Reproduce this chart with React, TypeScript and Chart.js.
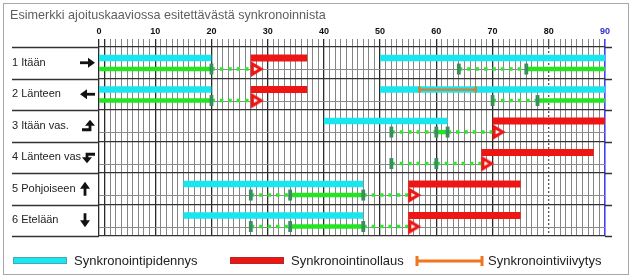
import React, { useEffect, useRef } from "react";
import { Chart, registerables } from "chart.js";

Chart.register(...registerables);

// ---------- data ----------
const chartTitle = "Esimerkki ajoituskaaviossa esitettävästä synkronoinnista";
const rowLabels = ["1 Itään", "2 Länteen", "3 Itään vas.", "4 Länteen vas", "5 Pohjoiseen", "6 Etelään"];
const rowArrows = ["right", "left", "rightUp", "leftDown", "up", "down"];
const xTickLabels = [0, 10, 20, 30, 40, 50, 60, 70, 80, 90];
const legendLabels = ["Synkronointipidennys", "Synkronointinollaus", "Synkronointiviivytys"];

// [row, start, end]
const extensionBars: number[][] = [
  [0, 0, 20], [0, 50, 90], [1, 0, 20], [1, 50, 90], [2, 40, 62], [4, 15, 47], [5, 15, 47],
];
const resetBars: number[][] = [
  [0, 27, 37], [1, 27, 37], [2, 70, 90], [3, 68, 88], [4, 55, 75], [5, 55, 75],
];
const delayBars: number[][] = [[1, 57, 67]];
const greenSolid: number[][] = [
  [0, 0, 20], [0, 76, 90], [1, 0, 20], [1, 78, 90], [2, 60, 62], [4, 34, 47], [5, 34, 47],
];
const greenDotted: number[][] = [
  [0, 20, 27], [0, 64, 76], [1, 20, 27], [1, 70, 78], [2, 52, 60], [2, 62, 70],
  [3, 52, 60], [3, 60, 68], [4, 27, 34], [4, 47, 55], [5, 27, 34], [5, 47, 55],
];
// [row, time]
const markers: number[][] = [
  [0, 20], [0, 64], [0, 76], [1, 20], [1, 70], [1, 78], [2, 52], [2, 60], [2, 62],
  [3, 52], [3, 60], [4, 27], [4, 34], [4, 47], [5, 27], [5, 34], [5, 47],
];
const triangles: number[][] = [[0, 27], [1, 27], [2, 70], [3, 68], [4, 55], [5, 55]];

// ---------- style ----------
const FONT = '"Liberation Sans", Arial, sans-serif';
const CYAN = "#1ae6f0";
const RED = "#ee1515";
const GREEN = "#22e622";
const DOT_GREEN = "#2ee62e";
const MARK = "#3a8d5e";
const ORANGE = "#d97c2e";
const BAR = 0.35;
const SIG = 0.7;
const SUB = 0.73;

function makeTriangle(): HTMLCanvasElement {
  const c = document.createElement("canvas");
  c.width = 28;
  c.height = 28;
  const g = c.getContext("2d")!;
  g.beginPath();
  g.moveTo(15.5, 8.8);
  g.lineTo(24, 14);
  g.lineTo(15.5, 19.2);
  g.closePath();
  g.fillStyle = "#fff";
  g.fill();
  g.lineWidth = 3.2;
  g.lineJoin = "miter";
  g.strokeStyle = RED;
  g.stroke();
  return c;
}

function drawArrow(ctx: CanvasRenderingContext2D, kind: string, cx: number, cy: number) {
  ctx.save();
  ctx.fillStyle = "#111";
  ctx.strokeStyle = "#111";
  ctx.lineWidth = 2.8;
  ctx.lineCap = "butt";
  ctx.lineJoin = "miter";
  const line = (pts: number[][]) => {
    ctx.beginPath();
    ctx.moveTo(pts[0][0], pts[0][1]);
    for (let i = 1; i < pts.length; i++) ctx.lineTo(pts[i][0], pts[i][1]);
    ctx.stroke();
  };
  const tri = (pts: number[][]) => {
    ctx.beginPath();
    ctx.moveTo(pts[0][0], pts[0][1]);
    ctx.lineTo(pts[1][0], pts[1][1]);
    ctx.lineTo(pts[2][0], pts[2][1]);
    ctx.closePath();
    ctx.fill();
  };
  switch (kind) {
    case "right":
      line([[cx - 7, cy], [cx + 2, cy]]);
      tri([[cx + 1, cy - 5], [cx + 8, cy], [cx + 1, cy + 5]]);
      break;
    case "left":
      line([[cx + 7, cy], [cx - 2, cy]]);
      tri([[cx - 1, cy - 5], [cx - 8, cy], [cx - 1, cy + 5]]);
      break;
    case "up":
      line([[cx, cy + 7], [cx, cy - 1]]);
      tri([[cx - 5, cy], [cx, cy - 7], [cx + 5, cy]]);
      break;
    case "down":
      line([[cx, cy - 7], [cx, cy + 1]]);
      tri([[cx - 5, cy], [cx, cy + 7], [cx + 5, cy]]);
      break;
    case "rightUp":
      line([[cx - 6, cy + 4], [cx + 2, cy + 4], [cx + 2, cy - 1]]);
      tri([[cx - 3, cy], [cx + 2, cy - 6], [cx + 7, cy]]);
      break;
    case "leftDown":
      line([[cx + 7, cy - 3], [cx - 1, cy - 3], [cx - 1, cy + 1]]);
      tri([[cx - 6, cy], [cx - 1, cy + 6], [cx + 4, cy]]);
      break;
  }
  ctx.restore();
}

const arrowX: Record<string, number> = { right: 87, left: 88, up: 85, down: 85, rightUp: 88, leftDown: 88 };

const decorPlugin = {
  id: "decor",
  beforeDraw(chart: any) {
    const { ctx, width, height } = chart;
    ctx.save();
    ctx.fillStyle = "#fff";
    ctx.fillRect(0, 0, width, height);
    ctx.strokeStyle = "#a8a8a8";
    ctx.lineWidth = 1;
    ctx.strokeRect(3.5, 3.5, width - 7, height - 7);
    ctx.fillStyle = "#5e5e5e";
    ctx.font = `12.6px ${FONT}`;
    ctx.textBaseline = "alphabetic";
    ctx.textAlign = "left";
    ctx.fillText(chartTitle, 10, 19);
    ctx.restore();
  },
  beforeDatasetsDraw(chart: any) {
    const { ctx } = chart;
    const xs = chart.scales.x;
    const ys = chart.scales.y;
    ctx.save();
    ctx.strokeStyle = "#333";
    ctx.lineWidth = 1.3;
    for (let i = 0; i <= rowLabels.length; i++) {
      const py = Math.round(ys.getPixelForValue(i)) + 0.5;
      ctx.beginPath();
      ctx.moveTo(12, py);
      ctx.lineTo(xs.left, py);
      ctx.moveTo(xs.right, py);
      ctx.lineTo(xs.right + 7, py);
      ctx.stroke();
    }
    ctx.restore();
  },
  afterDraw(chart: any) {
    const { ctx } = chart;
    const ys = chart.scales.y;
    rowArrows.forEach((k, i) => {
      drawArrow(ctx, k, arrowX[k], ys.getPixelForValue(i + 0.5));
    });
    // legend
    ctx.save();
    const ly = 261;
    ctx.fillStyle = CYAN;
    ctx.fillRect(13, ly - 4, 54, 7);
    ctx.strokeStyle = "#4aa6b0";
    ctx.lineWidth = 1;
    ctx.strokeRect(13.5, ly - 3.5, 53, 6);
    ctx.fillStyle = RED;
    ctx.fillRect(230, ly - 4, 54, 7);
    ctx.strokeStyle = "#b02a2a";
    ctx.strokeRect(230.5, ly - 3.5, 53, 6);
    ctx.strokeStyle = "#ef7620";
    ctx.lineWidth = 3;
    ctx.beginPath();
    ctx.moveTo(416, ly);
    ctx.lineTo(483, ly);
    ctx.moveTo(417, ly - 5);
    ctx.lineTo(417, ly + 5);
    ctx.moveTo(482, ly - 5);
    ctx.lineTo(482, ly + 5);
    ctx.stroke();
    ctx.fillStyle = "#222";
    ctx.font = `13px ${FONT}`;
    ctx.textBaseline = "middle";
    ctx.textAlign = "left";
    ctx.fillText(legendLabels[0], 74, ly);
    ctx.fillText(legendLabels[1], 291, ly);
    ctx.fillText(legendLabels[2], 488, ly);
    ctx.restore();
  },
};

function buildDatasets() {
  const ds: any[] = [];
  const segment = (r: number, a: number, b: number, level: number, style: any) =>
    ds.push({
      data: [{ x: a, y: r + level }, { x: b, y: r + level }],
      showLine: true,
      pointRadius: 0,
      borderCapStyle: "butt",
      ...style,
    });
  extensionBars.forEach(([r, a, b]) => segment(r, a, b, BAR, { borderColor: CYAN, borderWidth: 6.5, order: 6 }));
  resetBars.forEach(([r, a, b]) => segment(r, a, b, BAR, { borderColor: RED, borderWidth: 7, order: 6 }));
  greenSolid.forEach(([r, a, b]) => segment(r, a, b, SIG, { borderColor: GREEN, borderWidth: 4.4, order: 5 }));
  greenDotted.forEach(([r, a, b]) =>
    segment(r, a, b, SIG, { borderColor: DOT_GREEN, borderWidth: 3.6, borderDash: [3.5, 4.9], order: 5 })
  );
  delayBars.forEach(([r, a, b]) => segment(r, a, b, BAR, { borderColor: ORANGE, borderWidth: 2.2, order: 4 }));
  ds.push({
    data: delayBars.flatMap(([r, a, b]) => [{ x: a, y: r + BAR }, { x: b, y: r + BAR }]),
    showLine: false,
    pointStyle: "line",
    pointRotation: 90,
    pointRadius: 3.2,
    pointBorderWidth: 2.4,
    pointBorderColor: ORANGE,
    order: 3,
  });
  ds.push({
    data: markers.map(([r, t]) => ({ x: t, y: r + SIG })),
    showLine: false,
    pointStyle: "line",
    pointRotation: 90,
    pointRadius: 5.5,
    pointBorderWidth: 3.8,
    pointBorderColor: MARK,
    order: 2,
  });
  ds.push({
    data: triangles.map(([r, t]) => ({ x: t, y: r + SIG })),
    showLine: false,
    pointStyle: makeTriangle(),
    pointRadius: 7,
    order: 1,
  });
  return ds;
}

const yTickValues: number[] = [];
for (let i = 0; i <= rowLabels.length; i++) {
  yTickValues.push(i);
  if (i < rowLabels.length) {
    yTickValues.push(i + 0.5);
    yTickValues.push(i + SUB);
  }
}

const frac = (v: number) => v - Math.floor(v);

export default function App() {
  const ref = useRef<HTMLCanvasElement>(null);
  useEffect(() => {
    const canvas = ref.current!;
    const chart = new Chart(canvas, {
      type: "scatter",
      data: { datasets: buildDatasets() },
      plugins: [decorPlugin],
      options: {
        animation: false,
        responsive: false,
        events: [],
        layout: { padding: { left: 12, top: 27, right: 27, bottom: 42 } },
        plugins: { legend: { display: false }, tooltip: { enabled: false }, title: { display: false } },
        scales: {
          x: {
            type: "linear",
            position: "top",
            min: 0,
            max: 90,
            afterFit: (s: any) => {
              s.height = 20;
            },
            ticks: {
              stepSize: 1,
              autoSkip: false,
              maxRotation: 0,
              padding: 2,
              callback: (v: any) => (xTickLabels.includes(Number(v)) ? String(v) : ""),
              font: { family: FONT, size: 9, weight: "bold" },
              color: (c: any) => (c.tick && c.tick.value === 90 ? "#2f2fd0" : "#111"),
            },
            grid: {
              tickLength: 8,
              color: (c: any) => {
                const v = c.tick ? c.tick.value : -1;
                if (v === 90) return "#4040ee";
                if (v === 80) return "#555";
                if (v % 10 === 0 || v === 1) return "#2a2a2a";
                return "#858585";
              },
              lineWidth: (c: any) => {
                const v = c.tick ? c.tick.value : -1;
                if (v === 90) return 1.6;
                if (v % 10 === 0 || v === 1) return 1.3;
                return 1;
              },
            },
            border: {
              display: false,
              dash: (c: any) => (c.tick && c.tick.value === 80 ? [2, 2] : []),
            },
          },
          y: {
            type: "linear",
            min: 0,
            max: 6,
            reverse: true,
            afterBuildTicks: (s: any) => {
              s.ticks = yTickValues.map((v) => ({ value: v }));
            },
            afterFit: (s: any) => {
              s.width = 87;
            },
            ticks: {
              autoSkip: false,
              crossAlign: "far",
              padding: 0,
              font: { family: FONT, size: 11 },
              color: "#222",
              callback: (v: any) => {
                const n = Number(v);
                return Math.abs(frac(n) - 0.5) < 1e-6 ? rowLabels[Math.floor(n)] : "";
              },
            },
            grid: {
              drawTicks: false,
              color: (c: any) => {
                if (!c.tick) return "transparent";
                const f = frac(c.tick.value);
                if (f < 1e-6 || f > 1 - 1e-6) return "#333";
                if (Math.abs(f - 0.5) < 1e-6) return "rgba(0,0,0,0)";
                return "#8a8a8a";
              },
              lineWidth: (c: any) => {
                if (!c.tick) return 0;
                const f = frac(c.tick.value);
                return f < 1e-6 || f > 1 - 1e-6 ? 1.3 : 1;
              },
            },
            border: { display: false },
          },
        },
      } as any,
    });
    return () => chart.destroy();
  }, []);
  return (
    <div style={{ position: "fixed", left: 0, top: 0, width: 632, height: 278 }}>
      <canvas ref={ref} width={632} height={278} style={{ display: "block", width: 632, height: 278 }} />
    </div>
  );
}
